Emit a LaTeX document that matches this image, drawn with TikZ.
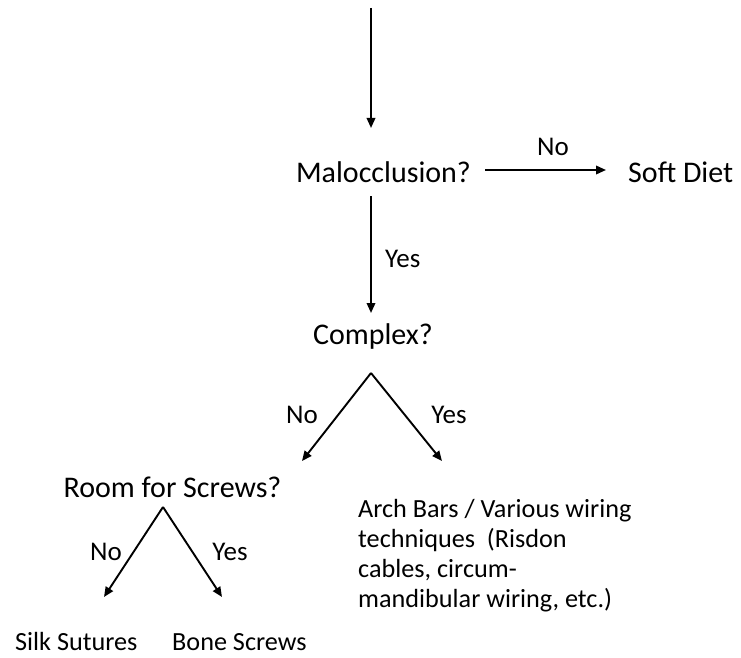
\documentclass[tikz,border=0pt]{standalone}
\usepackage{fontspec}
\setmainfont{Carlito}
\usetikzlibrary{arrows.meta}
\begin{document}
\begin{tikzpicture}[x=1pt,y=-1pt,
  arr/.style={line width=1.9pt,-{Triangle[length=10pt,width=8.5pt]}},
  big/.style={inner sep=0pt,font=\fontsize{30}{36}\selectfont},
  lab/.style={inner sep=0pt,font=\fontsize{27}{32}\selectfont},
  small/.style={inner sep=0pt,font=\fontsize{26.2}{30}\selectfont}]
\useasboundingbox (0,0) rectangle (741,658);
% nodes
\node[big,anchor=base] (mal) at (383.5,182) {Malocclusion?};
\node[big,anchor=base west] (soft) at (628,182) {Soft Diet};
\node[big,anchor=base] (cmp) at (373,344) {Complex?};
\node[big,anchor=base] (room) at (172.5,497) {Room for Screws?};
\node[small,anchor=base west] (silk) at (15,650) {Silk Sutures};
\node[small,anchor=base west] (bone) at (172,650) {Bone Screws};
\node[small,anchor=base west,align=left] (arch) at (358,607) {Arch Bars / Various wiring\\techniques~ (Risdon\\cables, circum-\\mandibular wiring, etc.)};
% coordinates
\coordinate (top) at (371,8);
\coordinate (topend) at (371,128);
\coordinate (malbot) at (371,196);
\coordinate (cmptop) at (371,313);
\coordinate (noA) at (485,170);
\coordinate (noB) at (606,170);
\coordinate (cmpapex) at (371,373);
\coordinate (cmpL) at (302,461);
\coordinate (cmpR) at (442,461);
\coordinate (roomapex) at (163,507);
\coordinate (roomL) at (104,597);
\coordinate (roomR) at (222,597);
% connectors
\draw[arr] (top) -- (topend);
\draw[arr] (noA) -- (noB);
\node[lab,anchor=base] (nolab) at (553,155) {No};
\draw[arr] (malbot) -- (cmptop);
\node[lab,anchor=base west] (yeslab) at (385,267) {Yes};
\draw[arr] (cmpapex) -- (cmpL);
\draw[arr] (cmpapex) -- (cmpR);
\node[lab,anchor=base] (no2) at (302,423) {No};
\node[lab,anchor=base] (yes2) at (449,423) {Yes};
\draw[arr] (roomapex) -- (roomL);
\draw[arr] (roomapex) -- (roomR);
\node[lab,anchor=base] (no3) at (106,560) {No};
\node[lab,anchor=base] (yes3) at (230,560) {Yes};
\end{tikzpicture}
\end{document}
